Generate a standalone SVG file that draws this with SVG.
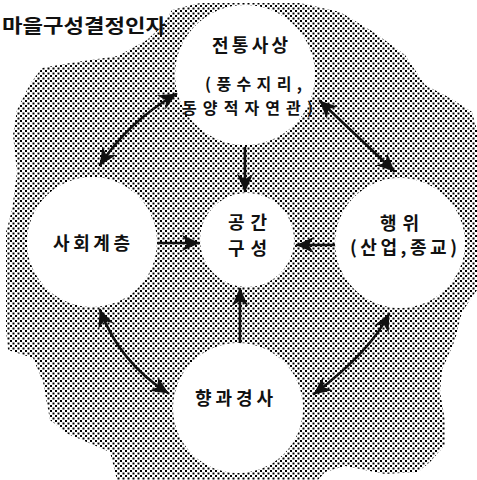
<svg xmlns="http://www.w3.org/2000/svg" width="477" height="480" viewBox="0 0 477 480">
<style>
.t{font-family:"Noto Sans CJK KR","Noto Sans",sans-serif;font-weight:700;fill:#111;text-anchor:middle}
.c{fill:#fff}
.ln{fill:none;stroke:#111;stroke-width:2.6;stroke-linecap:round}
</style>
<defs>
<pattern id="dots" width="5" height="5" patternUnits="userSpaceOnUse">
<rect width="5" height="5" fill="#fff"/>
<rect x="0" y="0" width="2" height="2" fill="#000"/>
<rect x="2.5" y="2.5" width="2" height="2" fill="#000"/>
</pattern>
<marker id="ah" viewBox="0 0 20 20" refX="19" refY="10" markerWidth="18" markerHeight="18" orient="auto-start-reverse" markerUnits="userSpaceOnUse">
<path d="M0,1 L20,10 L0,19 L6,10 z" fill="#111"/>
</marker>
</defs>
<rect width="477" height="480" fill="#fff"/>
<path id="backdrop" fill="url(#dots)" d="M172,10 L200,3 L300,3 L340,12 L375,33 L405,55 L425,85 L450,98 L472,112 L477,130 L477,290 L462,312 L455,340 L442,370 L440,392 L445,420 L445,445 L430,462 L418,472 L385,474 L345,466 L325,472 L318,480 L117,480 L110,452 L68,434 L50,420 L43,382 L33,358 L8,350 L6,330 L6,232 L12,210 L17,172 L13,135 L17,110 L30,84 L42,68 L70,63 L118,56 L147,40 L162,26 Z"/>
<text id="title" class="t" x="84" y="33" font-size="19" textLength="164" lengthAdjust="spacingAndGlyphs">마을구성결정인자</text>
<g id="connectors">
<path class="ln" d="M100,165 Q128,122 176,94" marker-start="url(#ah)" marker-end="url(#ah)"/>
<path class="ln" d="M320,101 L394,171" marker-start="url(#ah)" marker-end="url(#ah)"/>
<path class="ln" d="M100,310 Q120,363 168,393" marker-start="url(#ah)" marker-end="url(#ah)"/>
<path class="ln" d="M389,314 Q370,352 314,394" marker-start="url(#ah)" marker-end="url(#ah)"/>
<path class="ln" d="M245,148 L245,191" marker-end="url(#ah)"/>
<path class="ln" d="M158,243 L199,243" marker-end="url(#ah)"/>
<path class="ln" d="M336,245 L297,245" marker-end="url(#ah)"/>
<path class="ln" d="M240,343 L240,289" marker-end="url(#ah)"/>
</g>
<g id="node-tradition">
<circle class="c" cx="245" cy="75" r="70"/>
<text class="t" x="250" y="52" font-size="18" textLength="76" lengthAdjust="spacing">전통사상</text>
<text class="t" x="253.5" y="90" font-size="16" textLength="97" lengthAdjust="spacing">(풍수지리,</text>
<text class="t" x="247.5" y="114" font-size="16" textLength="131" lengthAdjust="spacing">동양적자연관)</text>
</g>
<g id="node-social">
<circle class="c" cx="92" cy="242" r="65"/>
<text class="t" x="91.5" y="250" font-size="18" textLength="77" lengthAdjust="spacing">사회계층</text>
</g>
<g id="node-space">
<circle class="c" cx="247" cy="240" r="47"/>
<text class="t" x="247.5" y="229" font-size="18" textLength="39" lengthAdjust="spacing">공간</text>
<text class="t" x="247.5" y="255" font-size="18" textLength="39" lengthAdjust="spacing">구성</text>
</g>
<g id="node-behavior">
<circle class="c" cx="400" cy="243" r="65"/>
<text class="t" x="399.5" y="230" font-size="18" textLength="39" lengthAdjust="spacing">행위</text>
<text class="t" x="403.5" y="254" font-size="18" textLength="107" lengthAdjust="spacing">(산업,종교)</text>
</g>
<g id="node-slope">
<circle class="c" cx="238" cy="408" r="65"/>
<text class="t" x="234" y="405" font-size="18" textLength="78" lengthAdjust="spacing">향과경사</text>
</g>
</svg>
